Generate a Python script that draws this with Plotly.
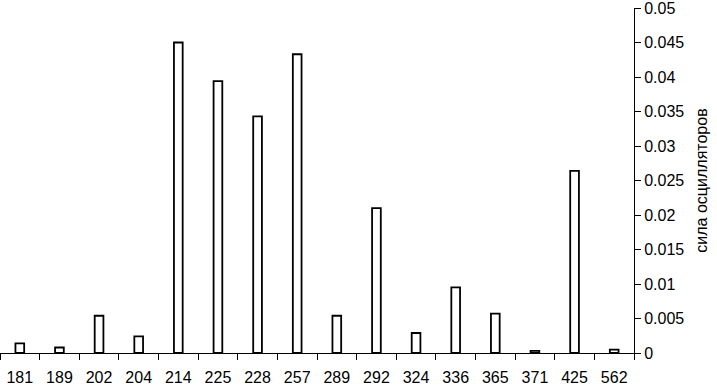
import plotly.graph_objects as go

categories = ["181", "189", "202", "204", "214", "225", "228", "257",
              "289", "292", "324", "336", "365", "371", "425", "562"]
strengths = [0.0014, 0.0008, 0.0054, 0.0024, 0.0450, 0.0394, 0.0343, 0.0433,
             0.0054, 0.0210, 0.0029, 0.0095, 0.0057, 0.0003, 0.0264, 0.0005]
y_ticks = [0, 0.005, 0.01, 0.015, 0.02, 0.025, 0.03, 0.035, 0.04, 0.045, 0.05]
y_tick_labels = ["0", "0.005", "0.01", "0.015", "0.02", "0.025", "0.03",
                 "0.035", "0.04", "0.045", "0.05"]

fig = go.Figure(go.Bar(
    x=categories, y=strengths,
    marker=dict(color="white", line=dict(color="black", width=1.8)),
))

fig.update_layout(
    width=717, height=385,
    margin=dict(l=0, r=83, t=8, b=32),
    paper_bgcolor="white", plot_bgcolor="white",
    bargap=0.78,
    showlegend=False,
    font=dict(family="Liberation Sans, Arial, sans-serif", size=14, color="black"),
    xaxis=dict(type="category", showline=True, linecolor="black", linewidth=1,
               ticks="outside", tickson="boundaries", ticklen=6, tickcolor="black",
               showgrid=False, zeroline=False, tickfont=dict(size=16),
               automargin=False, ticklabelstandoff=10),
    yaxis=dict(side="right", range=[0, 0.05], showline=True, linecolor="black",
               linewidth=1, ticks="outside", ticklen=6, tickcolor="black",
               tickvals=y_ticks, ticktext=y_tick_labels, showgrid=False,
               zeroline=False, tickfont=dict(size=16), automargin=False,
               ticklabeloverflow="allow",
               title=dict(text="сила осцилляторов", font=dict(size=16), standoff=12)),
)

fig.write_html("out.html", config={"displayModeBar": False},
               post_script="document.body.style.margin='0';document.body.style.overflow='hidden';")
